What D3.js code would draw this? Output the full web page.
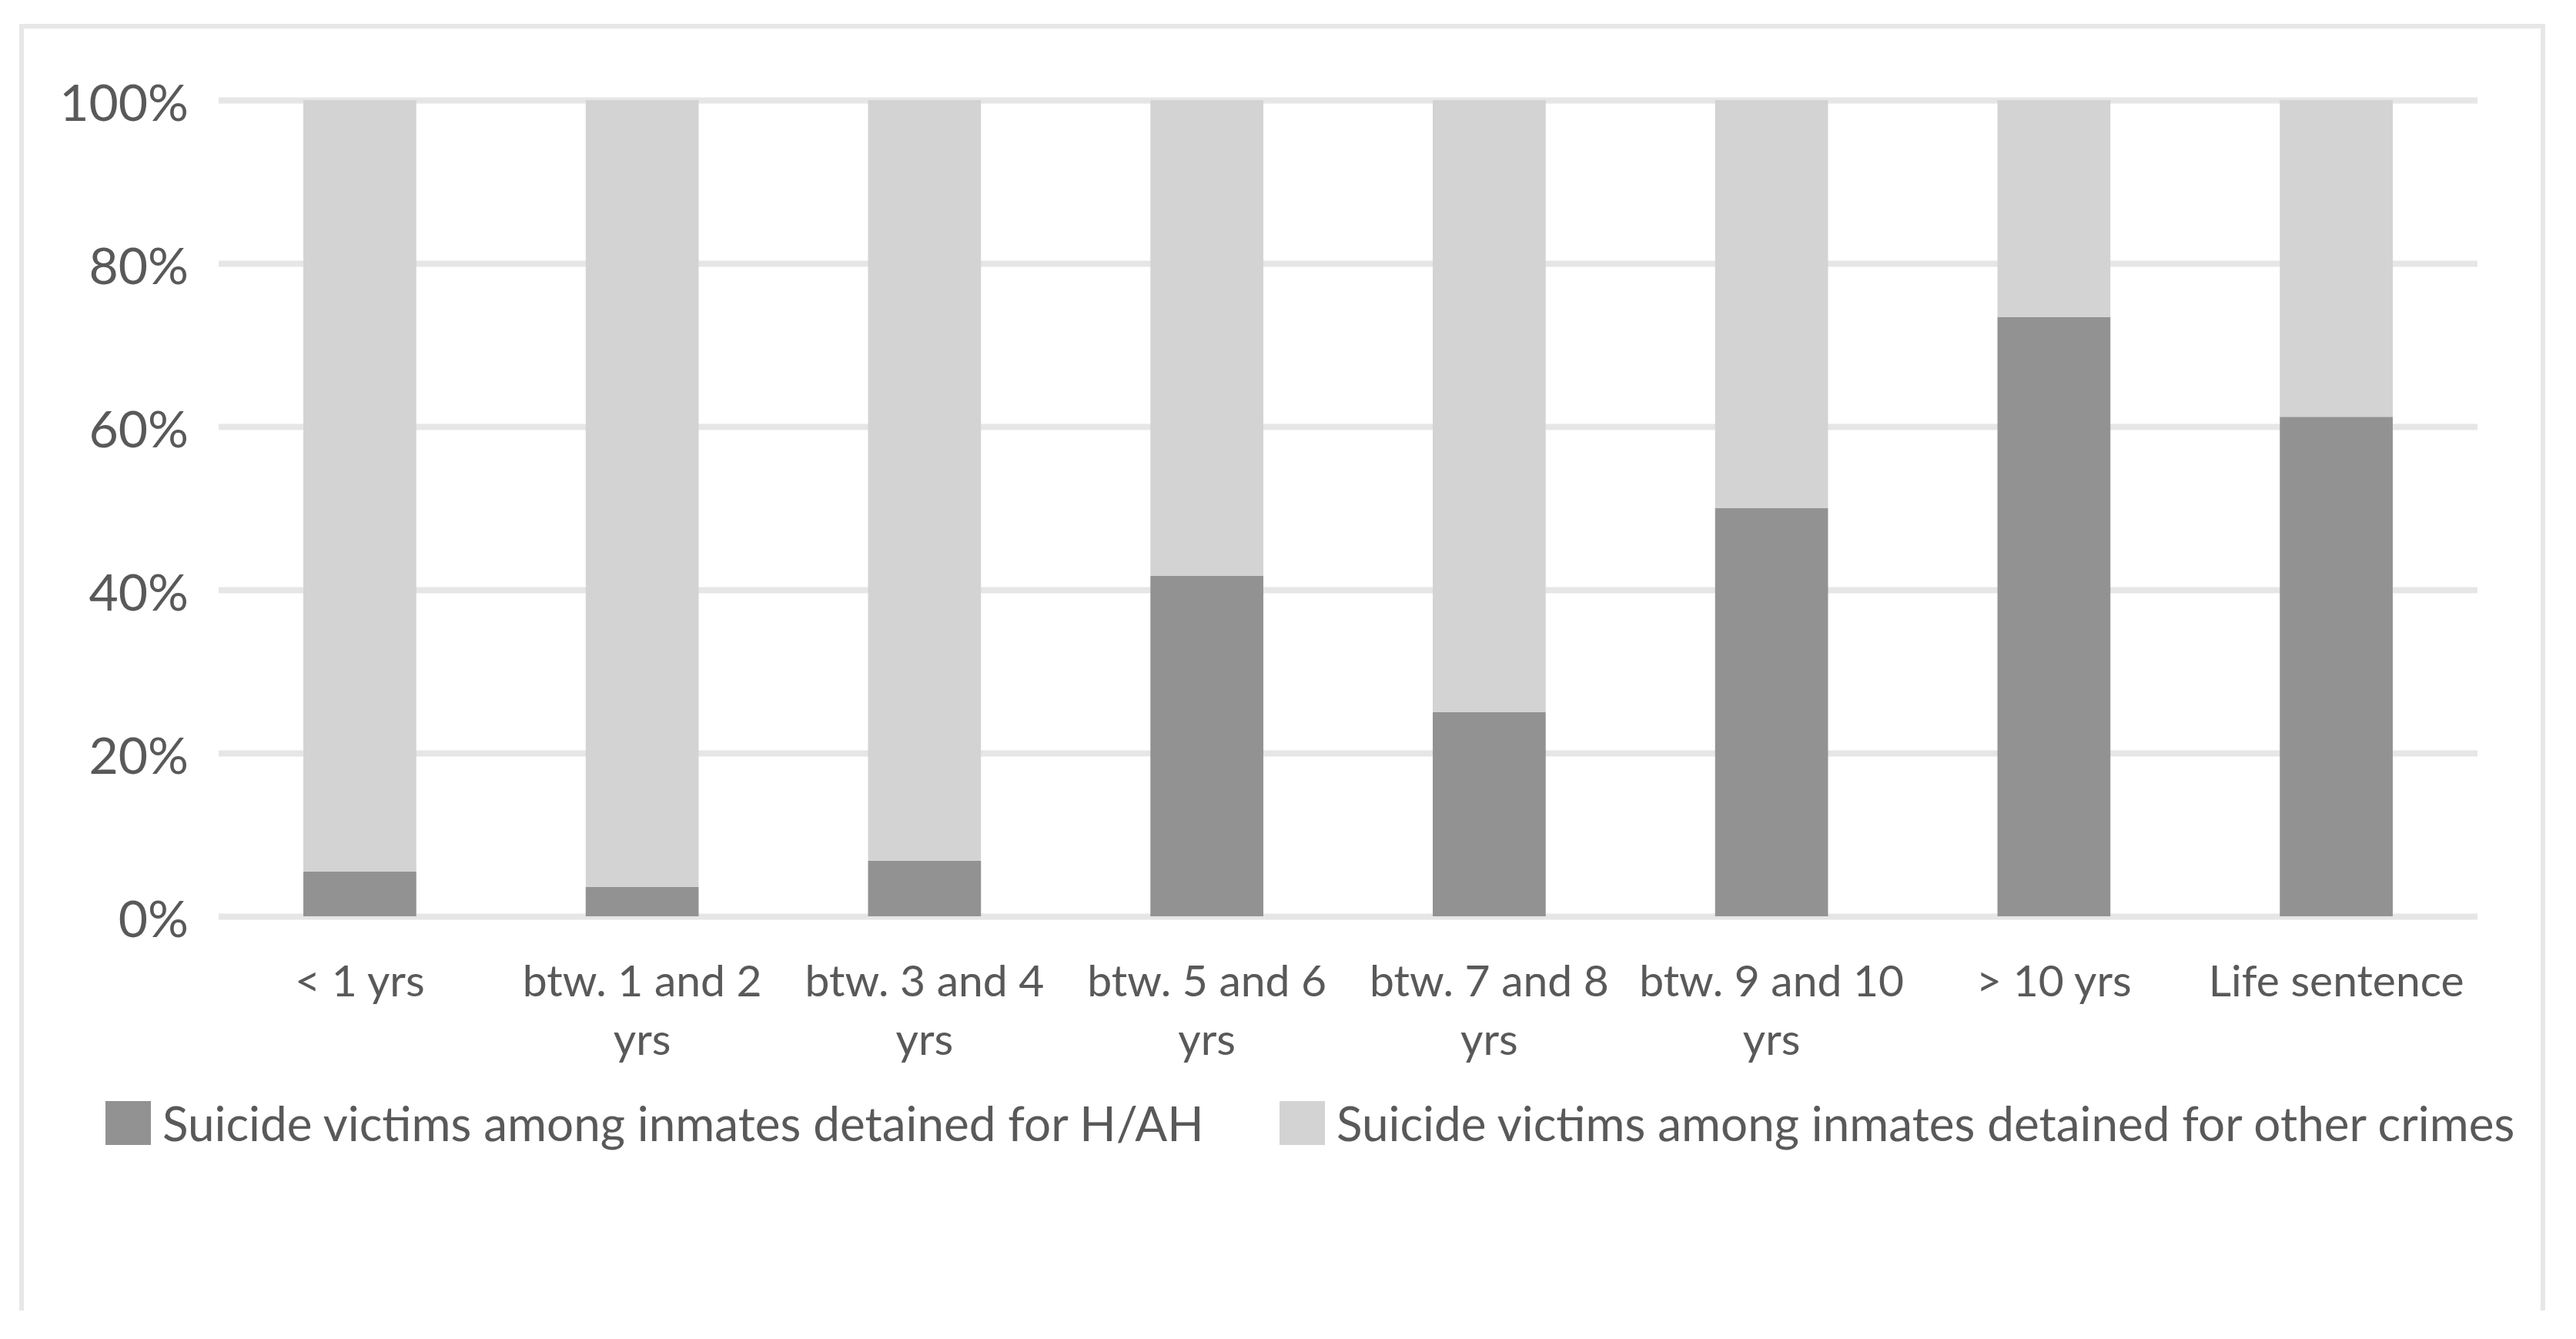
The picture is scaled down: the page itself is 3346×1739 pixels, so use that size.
<!DOCTYPE html>
<html>
<head>
<meta charset="utf-8">
<script src="https://cdn.jsdelivr.net/npm/d3@7"></script>
<style>
  html, body { margin: 0; padding: 0; background: #ffffff; }
  svg { display: block; }
  text { font-family: Lato, "Open Sans", "Noto Sans", sans-serif; fill: #595959; }
</style>
</head>
<body>
<svg id="chart" width="3346" height="1739"></svg>
<script>
// ---- data ----
const categories = ["< 1 yrs", "btw. 1 and 2 yrs", "btw. 3 and 4 yrs", "btw. 5 and 6 yrs",
                    "btw. 7 and 8 yrs", "btw. 9 and 10 yrs", "> 10 yrs", "Life sentence"];
const categoryLines = [["< 1 yrs"], ["btw. 1 and 2", "yrs"], ["btw. 3 and 4", "yrs"], ["btw. 5 and 6", "yrs"],
                       ["btw. 7 and 8", "yrs"], ["btw. 9 and 10", "yrs"], ["> 10 yrs"], ["Life sentence"]];
const seriesNames = ["Suicide victims among inmates detained for H/AH",
                     "Suicide victims among inmates detained for other crimes"];
const hahShare   = [5.5, 3.6, 6.8, 41.7, 25.0, 50.0, 73.4, 61.2];
const otherShare = hahShare.map(v => 100 - v);
const yTicks = [0, 20, 40, 60, 80, 100];
const yTickLabels = ["0%", "20%", "40%", "60%", "80%", "100%"];
const seriesColors = ["#929292", "#d3d3d3"];

// ---- layout ----
const svg = d3.select("#chart");
const plot = { left: 284, right: 3218, top: 130, bottom: 1190 };

svg.append("rect").attr("width", 3346).attr("height", 1739).attr("fill", "#ffffff");

// outer frame (left, top, right visible)
svg.append("path")
  .attr("d", "M28,1702 L28,34 L3303,34 L3303,1702")
  .attr("fill", "none").attr("stroke", "#e7e7e7").attr("stroke-width", 6);

const x = d3.scaleBand().domain(categories).range([plot.left, plot.right])
  .paddingInner(0.6).paddingOuter(0.3);
const y = d3.scaleLinear().domain([0, 100]).range([plot.bottom, plot.top]);

// gridlines
const yAxis = d3.axisLeft(y).tickValues(yTicks)
  .tickSize(-(plot.right - plot.left)).tickPadding(39)
  .tickFormat((d, i) => yTickLabels[i]);
const gy = svg.append("g").attr("transform", `translate(${plot.left},0)`).call(yAxis);
gy.select(".domain").remove();
gy.selectAll(".tick line").attr("stroke", "#e6e6e6").attr("stroke-width", 8);
gy.selectAll(".tick text").attr("font-size", 66).attr("dy", "0.4em").attr("fill", "#595959");

// stacked bars
const rows = categories.map((c, i) => ({ cat: c, hah: hahShare[i], other: otherShare[i] }));
const stack = d3.stack().keys(["hah", "other"])(rows);
svg.append("g").selectAll("g").data(stack).join("g")
  .attr("fill", (d, i) => seriesColors[i])
  .selectAll("rect").data(d => d).join("rect")
  .attr("x", d => x(d.data.cat))
  .attr("width", x.bandwidth())
  .attr("y", d => y(d[1]))
  .attr("height", d => y(d[0]) - y(d[1]));

// x axis labels
const xAxis = d3.axisBottom(x).tickSize(0).tickFormat("");
const gx = svg.append("g").attr("transform", `translate(0,${plot.bottom})`).call(xAxis);
gx.select(".domain").remove();
gx.selectAll(".tick").each(function (d, i) {
  const t = d3.select(this).append("text")
    .attr("text-anchor", "middle").attr("font-size", 57).attr("fill", "#595959");
  categoryLines[i].forEach((line, k) => {
    t.append("tspan").attr("x", 0).attr("y", 104 + k * 76).text(line);
  });
});

// legend
const legendItems = [
  { name: seriesNames[0], color: seriesColors[0], sx: 137, tx: 211 },
  { name: seriesNames[1], color: seriesColors[1], sx: 1662, tx: 1736 }
];
const lg = svg.append("g");
legendItems.forEach(it => {
  lg.append("rect").attr("x", it.sx).attr("y", 1430).attr("width", 59).attr("height", 57).attr("fill", it.color);
  lg.append("text").attr("x", it.tx).attr("y", 1482).attr("font-size", 62).attr("fill", "#595959").text(it.name);
});
</script>
</body>
</html>
